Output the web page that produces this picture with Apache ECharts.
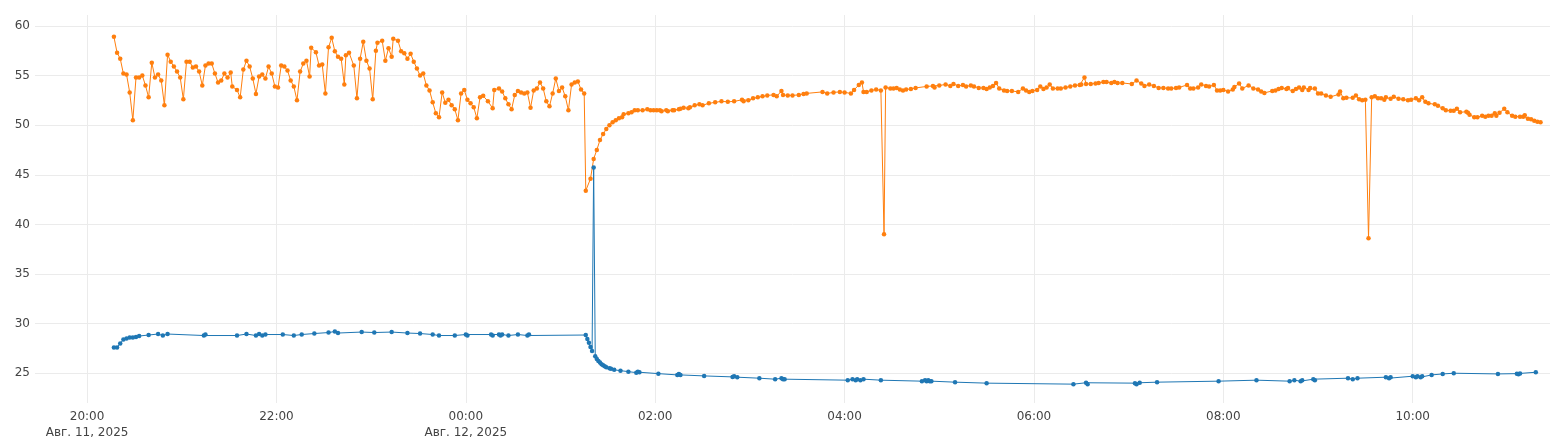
<!DOCTYPE html>
<html>
<head>
<meta charset="utf-8">
<script src="https://cdn.jsdelivr.net/npm/echarts@6/dist/echarts.min.js"></script>
<style>
  html, body { margin: 0; padding: 0; background: #fff; }
  #chart { width: 1564px; height: 448px; }
</style>
</head>
<body>
<div id="chart"></div>
<script>
// Time is given in minutes after 2025-08-11 20:00
const xTickMinutes = [0, 120, 240, 360, 480, 600, 720, 840];
const xTickLabels = ['20:00\nАвг. 11, 2025', '22:00', '00:00\nАвг. 12, 2025', '02:00', '04:00', '06:00', '08:00', '10:00'];
const yTicks = [25, 30, 35, 40, 45, 50, 55, 60];

const orangeMinutes = [
  17,19,21,23,25,27,29,31,33,35,37,39,41,43,45,47,49,51,53,55,57,59,61,63,65,67,69,71,73,75,77,79,81,83,85,87,89,91,92,95,97,99,101,103,105,107,109,111,113,115,117,119,121,123,125,127,
  129,131,133,135,137,139,141,142,145,147,149,151,153,155,157,159,161,163,164,166,169,171,173,175,177,179,181,183,184,187,189,191,193,194,197,199,201,203,205,207,209,211,213,215,217,219,221,223,225,227,229,231,233,235,237,239,241,
  243,245,247,249,251,254,257,258,261,263,265,267,269,271,273,275,277,279,281,283,285,287,289,291,293,295,297,299,301,303,305,307,309,311,313,315,316,319,321,323,325,327,329,331,333,335,337,339,340,343,345,347,349,352,355,357,359,361,363,364,367,368,371,372,375,376,378,381,382,385,388,390,394,398,402,406,410,415,416,419,422,425,428,431,435,437,440,441,444,447,451,454,456,466,469,473,477,480,484,486,489,491,492,494,497,500,503,505,506,509,511,513,
  515,517,519,522,525,532,536,537,540,544,547,549,552,555,557,560,562,565,568,570,572,574,576,578,581,583,586,590,593,595,597,599,602,604,606,608,610,612,615,617,620,623,626,629,630,632,633,636,639,641,644,646,649,651,653,656,662,665,668,670,673,676,679,682,685,687,690,692,697,699,701,704,706,709,711,714,716,
  718,720,723,726,727,730,732,736,739,742,744,746,751,753,755,757,760,761,764,766,768,770,771,774,775,778,780,782,785,788,793,794,796,798,802,804,806,808,810,812,814,816,818,820,822,823,826,828,831,834,837,839,842,844,846,848,850,854,856,859,861,864,866,868,870,874,875,876,879,881,884,886,888,890,892,893,895,898,900,903,905,908,910,911,913,915,917,919,921
];
const orangeValues = [
  58.9,57.3,56.7,55.2,55.1,53.3,50.5,54.8,54.8,55.0,54.0,52.8,56.3,54.8,55.1,54.5,52.0,57.1,56.4,55.9,55.4,54.8,52.6,56.4,56.4,55.8,55.9,55.4,54.0,56.0,56.2,56.2,55.2,54.3,54.5,55.2,54.8,55.3,53.9,53.55,52.8,55.6,56.5,55.9,54.7,53.15,54.9,55.1,54.7,55.9,55.2,53.9,53.8,56.0,55.9,55.5,
  54.5,53.9,52.5,55.4,56.2,56.5,54.9,57.8,57.35,56.0,56.1,53.2,57.85,58.8,57.45,56.9,56.7,54.1,57.05,57.3,56.0,52.7,56.7,58.4,56.5,55.7,52.6,57.5,58.3,58.5,56.5,57.75,56.9,58.7,58.5,57.45,57.25,56.7,57.2,56.4,55.7,55.0,55.2,54.0,53.5,52.3,51.2,50.8,53.3,52.25,52.55,52.0,51.6,50.5,53.2,53.55,52.55,
  52.2,51.8,50.7,52.8,52.95,52.4,51.7,53.55,53.7,53.4,52.7,52.1,51.6,53.05,53.45,53.3,53.2,53.3,51.75,53.5,53.7,54.3,53.7,52.4,51.9,53.2,54.7,53.45,53.8,52.9,51.5,54.1,54.3,54.4,53.6,53.2,43.4,44.6,46.6,47.5,48.5,49.1,49.6,50.0,50.3,50.5,50.7,50.8,51.1,51.2,51.3,51.5,51.5,51.5,51.6,51.5,51.5,51.5,51.5,51.4,51.5,51.4,51.5,51.5,51.6,51.65,51.75,51.7,51.8,52.0,52.1,52.0,52.2,52.3,52.4,52.35,52.4,52.55,52.4,52.5,52.7,52.8,52.9,53.0,53.05,52.9,53.45,53.05,53.0,53.0,53.05,53.15,53.2,53.35,53.2,53.3,53.35,53.3,53.2,53.55,54.05,54.3,53.35,53.35,53.5,53.6,53.5,39.0,53.8,53.7,53.7,53.75,
  53.6,53.5,53.6,53.65,53.75,53.9,53.95,53.8,54.0,54.1,53.95,54.15,53.95,54.05,53.9,54.0,53.9,53.75,53.75,53.65,53.8,53.95,54.25,53.7,53.5,53.45,53.45,53.35,53.7,53.5,53.35,53.45,53.55,53.9,53.65,53.8,54.1,53.7,53.7,53.7,53.8,53.9,54.0,54.05,54.1,54.8,54.15,54.15,54.2,54.25,54.35,54.35,54.25,54.35,54.25,54.25,54.15,54.5,54.2,53.95,54.1,53.95,53.75,53.75,53.7,53.7,53.75,53.8,54.05,53.7,53.7,53.8,54.1,53.95,53.9,54.05,53.5,
  53.5,53.55,53.4,53.6,53.85,54.2,53.7,54.0,53.7,53.6,53.4,53.25,53.45,53.5,53.65,53.75,53.65,53.75,53.45,53.65,53.8,53.55,53.8,53.55,53.75,53.7,53.2,53.2,53.0,52.85,53.1,53.4,52.7,52.75,52.75,53.0,52.6,52.5,52.55,38.6,52.8,52.9,52.7,52.7,52.55,52.8,52.65,52.85,52.65,52.6,52.5,52.55,52.7,52.5,52.8,52.35,52.2,52.1,51.95,51.7,51.5,51.45,51.45,51.65,51.3,51.35,51.25,51.05,50.8,50.8,50.95,50.85,50.95,50.95,51.2,50.95,51.25,51.65,51.3,50.95,50.85,50.85,50.85,51.0,50.65,50.6,50.45,50.35,50.3
];

const blueMinutes = [
  17,19,21,23,25,27,29,31,33,39,45,48,51,74,75,95,101,107,109,111,113,124,131,136,144,153,157,159,174,182,193,203,211,219,223,233,240,241,256,257,261,262,263,267,273,279,280,
  316,317,318,319,320,321,322,323,324,325,326,327,328,329,331,332,334,338,343,348,349,350,362,374,375,376,391,409,410,412,426,436,440,441,442,482,485,487,488,490,492,503,
  529,531,532,533,534,535,550,570,625,633,634,664,665,667,678,717,741,762,765,769,770,777,778,799,802,805,823,825,826,840,842,843,845,846,852,859,866,894,906,907,908,918
];
const blueValues = [
  27.6,27.6,28.0,28.4,28.5,28.6,28.6,28.65,28.75,28.85,28.95,28.8,28.95,28.8,28.9,28.8,28.95,28.8,28.95,28.8,28.9,28.9,28.8,28.9,29.0,29.1,29.2,29.05,29.15,29.1,29.15,29.05,29.0,28.9,28.8,28.8,28.9,28.8,28.9,28.8,28.9,28.8,28.9,28.8,28.9,28.8,28.9,
  28.85,28.45,28.08,27.64,27.25,45.73,26.7,26.44,26.24,26.07,25.9,25.8,25.7,25.6,25.5,25.44,25.34,25.26,25.16,25.06,25.16,25.1,24.96,24.83,24.93,24.83,24.73,24.63,24.7,24.6,24.5,24.4,24.5,24.4,24.4,24.3,24.4,24.3,24.4,24.3,24.4,24.3,
  24.2,24.3,24.2,24.3,24.2,24.2,24.1,24.0,23.9,24.04,23.9,24.0,23.9,24.04,24.1,24.2,24.3,24.2,24.3,24.2,24.3,24.4,24.3,24.5,24.4,24.5,24.6,24.5,24.6,24.7,24.6,24.7,24.6,24.7,24.83,24.93,25.0,24.93,24.96,24.9,24.98,25.1
];

const FONT = 'DejaVu Sans';
const TEXT = '#444';
const GRID = '#ebebeb';

function pairs(xs, ys) { return xs.map((x, i) => [x, ys[i]]); }

const chart = echarts.init(document.getElementById('chart'), null, { renderer: 'canvas' });
chart.setOption({
  animation: false,
  backgroundColor: '#fff',
  grid: { left: 35, right: 14, top: 15, bottom: 45, containLabel: false },
  xAxis: {
    type: 'value',
    min: -33,
    max: 927,
    axisLine: { show: false },
    axisTick: { show: false, customValues: xTickMinutes },
    axisLabel: {
      customValues: xTickMinutes,
      formatter: function (v) {
        const i = xTickMinutes.indexOf(Math.round(v));
        return i >= 0 ? xTickLabels[i] : '';
      },
      color: TEXT, fontFamily: FONT, fontSize: 12, lineHeight: 16, margin: 6
    },
    splitLine: { show: true, lineStyle: { color: GRID, width: 1 } }
  },
  yAxis: {
    type: 'value',
    min: 22.0,
    max: 61.1,
    axisLine: { show: false },
    axisTick: { show: false, customValues: yTicks },
    axisLabel: { customValues: yTicks, color: TEXT, fontFamily: FONT, fontSize: 12, margin: 5 },
    splitLine: { show: true, lineStyle: { color: GRID, width: 1 } }
  },
  series: [
    {
      name: 'blue', type: 'line', data: pairs(blueMinutes, blueValues),
      symbol: 'circle', symbolSize: 4.5, showAllSymbol: true,
      lineStyle: { color: '#1f77b4', width: 1 },
      itemStyle: { color: '#1f77b4' }
    },
    {
      name: 'orange', type: 'line', data: pairs(orangeMinutes, orangeValues),
      symbol: 'circle', symbolSize: 4.5, showAllSymbol: true,
      lineStyle: { color: '#ff7f0e', width: 1 },
      itemStyle: { color: '#ff7f0e' }
    }
  ]
});
</script>
</body>
</html>
